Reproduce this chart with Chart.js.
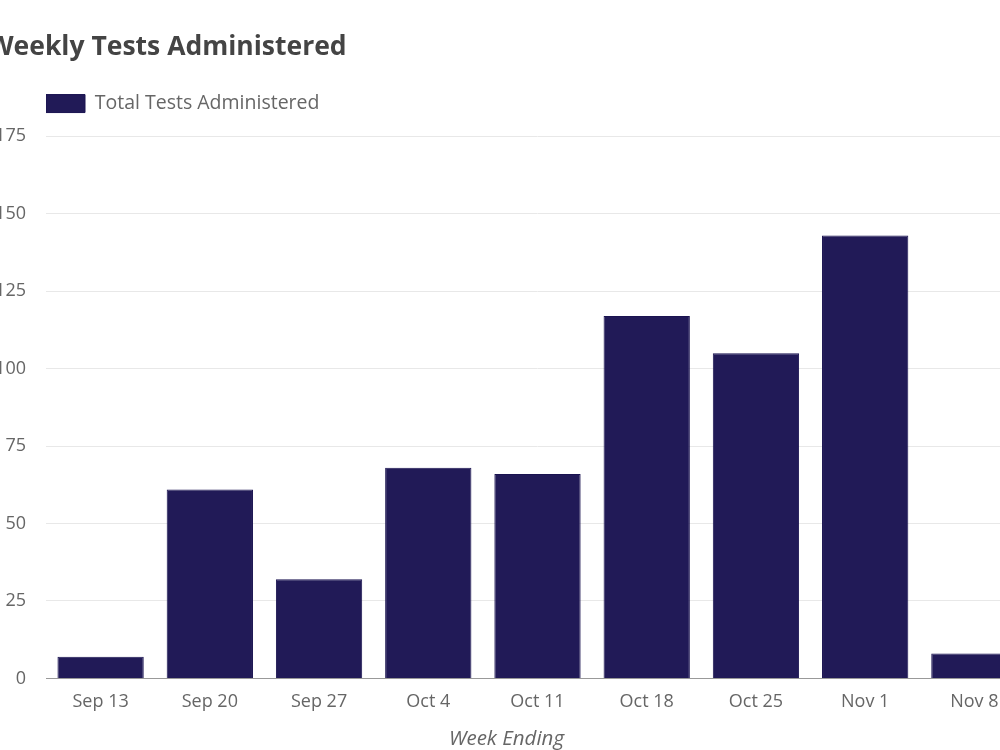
<!DOCTYPE html>
<html>
<head>
<meta charset="utf-8">
<script src="https://cdn.jsdelivr.net/npm/chart.js@4.4.0/dist/chart.umd.min.js"></script>
<style>
  html, body { margin: 0; padding: 0; width: 1000px; height: 750px; overflow: hidden; background: #fff; }
  #wrap { position: absolute; left: -20px; top: 0; width: 1060px; height: 760px; }
</style>
</head>
<body>
<div id="wrap"><canvas id="c"></canvas></div>
<script>
const categories = ['Sep 13', 'Sep 20', 'Sep 27', 'Oct 4', 'Oct 11', 'Oct 18', 'Oct 25', 'Nov 1', 'Nov 8'];
const totalTests = [7, 61, 32, 68, 66, 117, 105, 143, 8];
const yTicks = [0, 25, 50, 75, 100, 125, 150, 175];
const seriesLabel = 'Total Tests Administered';
const chartTitle = 'Weekly Tests Administered';
const xAxisTitle = 'Week Ending';

const FONT = "'Open Sans', 'Noto Sans', sans-serif";

const axisTitlePlugin = {
  id: 'axisTitlePlugin',
  afterDraw(chart) {
    const ctx = chart.ctx;
    const a = chart.chartArea;
    ctx.save();
    ctx.font = "italic 20.5px " + FONT;
    ctx.fillStyle = '#666';
    ctx.textAlign = 'center';
    ctx.textBaseline = 'middle';
    ctx.fillText(xAxisTitle, (a.left + a.right) / 2 - 31, a.bottom + 61);
    ctx.restore();
  }
};

new Chart(document.getElementById('c'), {
  type: 'bar',
  data: {
    labels: categories,
    datasets: [{
      label: seriesLabel,
      data: totalTests,
      backgroundColor: '#211a57',
      borderColor: '#1a1350',
      borderWidth: 1,
      categoryPercentage: 1.0,
      barPercentage: 0.79
    }]
  },
  plugins: [axisTitlePlugin],
  options: {
    responsive: true,
    maintainAspectRatio: false,
    animation: false,
    layout: { padding: { left: 8, right: 11, top: 0, bottom: 34 } },
    plugins: {
      title: {
        display: true,
        text: chartTitle,
        align: 'start',
        color: '#444',
        font: { family: FONT, size: 26.5, weight: 'bold' },
        padding: { top: 32, bottom: 30 }
      },
      legend: {
        display: true,
        position: 'top',
        align: 'start',
        fullSize: false,
        labels: {
          boxWidth: 39,
          boxHeight: 18,
          padding: 0,
          color: '#666',
          font: { family: FONT, size: 19.5 }
        }
      },
      tooltip: { enabled: false }
    },
    scales: {
      x: {
        grid: { display: false, drawTicks: false },
        border: { display: true, color: '#999', width: 1 },
        ticks: { color: '#666', font: { family: FONT, size: 18 }, padding: 13, maxRotation: 0, autoSkip: false }
      },
      y: {
        min: 0,
        max: 179.2,
        afterBuildTicks(scale) {
          scale.ticks = yTicks.map(v => ({ value: v }));
        },
        afterFit(scale) { scale.width = 58; },
        grid: { color: '#e8e8e8', drawTicks: false, lineWidth: 1 },
        border: { display: false },
        ticks: { color: '#666', font: { family: FONT, size: 18 }, padding: 20 }
      }
    }
  }
});
</script>
</body>
</html>
